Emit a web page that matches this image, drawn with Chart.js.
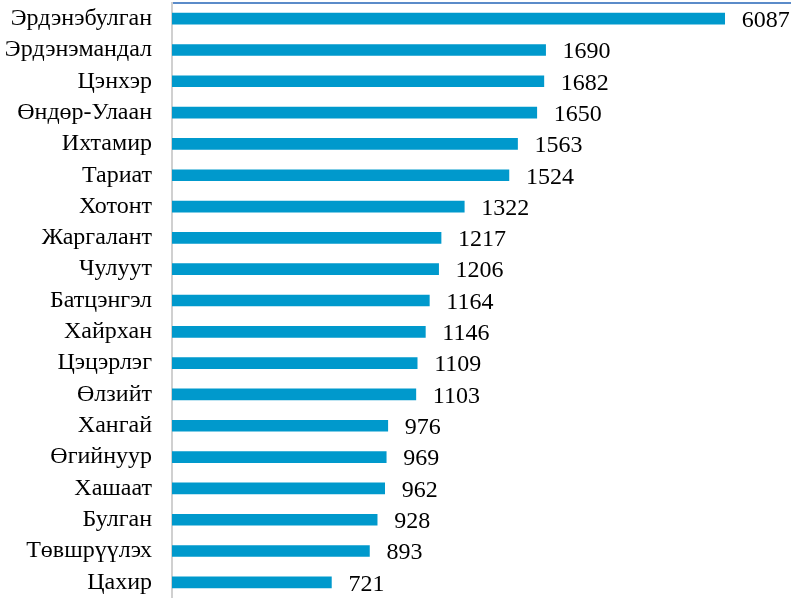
<!DOCTYPE html>
<html>
<head>
<meta charset="utf-8">
<script src="https://cdn.jsdelivr.net/npm/chart.js@4/dist/chart.umd.min.js"></script>
<style>
  html, body { margin: 0; padding: 0; background: #fff; }
  canvas { display: block; }
</style>
</head>
<body>
<canvas id="chart" width="791" height="598"></canvas>
<script>
// Categories (soums) and values
const labels = [
  "Эрдэнэбулган", "Эрдэнэмандал", "Цэнхэр", "Өндөр-Улаан", "Ихтамир",
  "Тариат", "Хотонт", "Жаргалант", "Чулуут", "Батцэнгэл", "Хайрхан",
  "Цэцэрлэг", "Өлзийт", "Хангай", "Өгийнуур", "Хашаат", "Булган",
  "Төвшрүүлэх", "Цахир"
];
const values = [
  6087, 1690, 1682, 1650, 1563, 1524, 1322, 1217, 1206, 1164, 1146,
  1109, 1103, 976, 969, 962, 928, 893, 721
];

// The first bar is cut short in the original (broken bar), label keeps real value
const barCap = 2500;
const axisMax = 2800;

const fontFamily = "'Liberation Serif', 'Times New Roman', serif";
const fontSize = 24;

// Draw value labels after bar end
const valueLabels = {
  id: "valueLabels",
  afterDatasetsDraw(chart) {
    const ctx = chart.ctx;
    const meta = chart.getDatasetMeta(0);
    ctx.save();
    ctx.font = fontSize + "px " + fontFamily;
    ctx.fillStyle = "#000";
    ctx.textAlign = "left";
    ctx.textBaseline = "middle";
    meta.data.forEach((bar, i) => {
      ctx.fillText(values[i], bar.x + 17, bar.y + 2);
    });
    ctx.restore();
  },
};

const ctx = document.getElementById("chart").getContext("2d");

new Chart(ctx, {
  type: "bar",
  data: {
    labels: labels,
    datasets: [
      {
        data: values.map((v) => Math.min(v, barCap)),
        backgroundColor: "#0099CC",
        barThickness: 11,
      },
    ],
  },
  options: {
    indexAxis: "y",
    responsive: false,
    animation: false,
    layout: { padding: 0 },
    plugins: {
      legend: { display: false },
      tooltip: { enabled: false },
    },
    scales: {
      x: {
        position: "top",
        min: 0,
        max: axisMax,
        ticks: { display: false },
        grid: { display: false, drawTicks: false },
        border: { display: true, color: "#5B8BC9", width: 2 },
        afterFit: (scale) => {
          scale.height = 3;
          scale.paddingLeft = 0;
          scale.paddingRight = 0;
        },
      },
      y: {
        ticks: {
          color: "#000",
          padding: 20,
          autoSkip: false,
          font: { family: fontFamily, size: fontSize },
        },
        grid: { display: false, drawTicks: false },
        border: { display: true, color: "#D0D0D0", width: 2 },
        afterFit: (scale) => {
          scale.width = 172;
          scale.paddingTop = 0;
          scale.paddingBottom = 0;
        },
      },
    },
  },
  plugins: [valueLabels],
});
</script>
</body>
</html>
